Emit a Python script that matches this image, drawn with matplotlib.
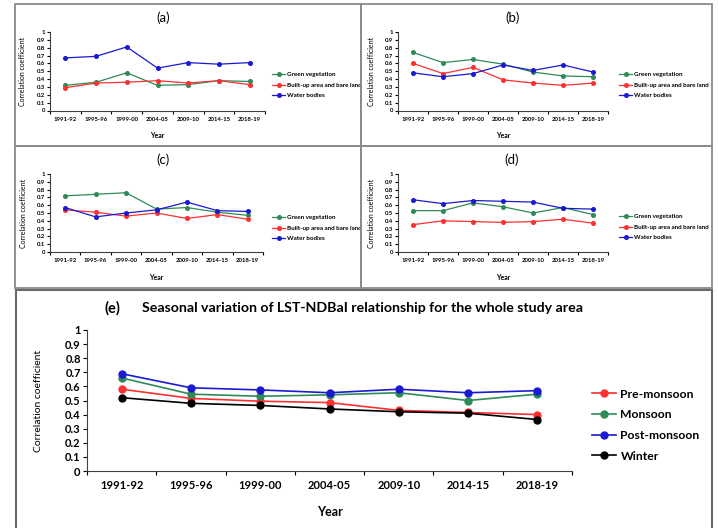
import matplotlib.pyplot as plt
from matplotlib.patches import Rectangle

plt.rcParams['font.family'] = ['Lato', 'DejaVu Sans']

years = ["1991-92", "1995-96", "1999-00", "2004-05", "2009-10", "2014-15", "2018-19"]
yticks = [0, 0.1, 0.2, 0.3, 0.4, 0.5, 0.6, 0.7, 0.8, 0.9, 1]
ytick_labels = ["0", "0.1", "0.2", "0.3", "0.4", "0.5", "0.6", "0.7", "0.8", "0.9", "1"]

land_names = ["Green vegetation", "Built-up area and bare land", "Water bodies"]

green_a = [0.32, 0.36, 0.48, 0.32, 0.33, 0.38, 0.37]
built_a = [0.29, 0.35, 0.36, 0.38, 0.35, 0.38, 0.33]
water_a = [0.67, 0.69, 0.81, 0.54, 0.61, 0.59, 0.61]

green_b = [0.74, 0.61, 0.65, 0.59, 0.49, 0.44, 0.43]
built_b = [0.60, 0.47, 0.55, 0.39, 0.35, 0.32, 0.35]
water_b = [0.48, 0.43, 0.47, 0.58, 0.51, 0.58, 0.49]

green_c = [0.72, 0.74, 0.76, 0.55, 0.57, 0.51, 0.47]
built_c = [0.54, 0.51, 0.46, 0.50, 0.43, 0.48, 0.42]
water_c = [0.57, 0.45, 0.50, 0.54, 0.64, 0.53, 0.52]

green_d = [0.53, 0.53, 0.63, 0.58, 0.50, 0.57, 0.48]
built_d = [0.35, 0.40, 0.39, 0.38, 0.39, 0.42, 0.37]
water_d = [0.67, 0.62, 0.66, 0.65, 0.64, 0.56, 0.55]

season_names = ["Pre-monsoon", "Monsoon", "Post-monsoon", "Winter"]
pre_monsoon = [0.58, 0.515, 0.495, 0.485, 0.43, 0.415, 0.40]
monsoon = [0.66, 0.545, 0.53, 0.54, 0.555, 0.50, 0.545]
post_monsoon = [0.69, 0.59, 0.575, 0.555, 0.58, 0.555, 0.57]
winter = [0.52, 0.48, 0.465, 0.44, 0.42, 0.41, 0.365]

GREEN = "#2e8b57"
RED = "#ff3030"
BLUE = "#1a1ad0"
BLACK = "#000000"

W, H = 718, 528


def fx(px):
    return px / W


def fy(py):
    return 1 - py / H


def setup_axes(ax, tick_fs, ylabel_fs, tick_len):
    x = list(range(len(years)))
    ax.set_xlim(-0.5, len(years) - 0.5)
    ax.set_ylim(0, 1)
    ax.set_yticks(yticks)
    ax.set_yticklabels(ytick_labels, fontsize=tick_fs, fontweight="bold")
    ax.set_xticks([i - 0.5 for i in range(len(years) + 1)])
    ax.set_xticklabels([])
    ax.set_xticks(x, minor=True)
    ax.set_xticklabels(years, minor=True, fontsize=tick_fs, fontweight="bold")
    ax.tick_params(axis="x", which="minor", length=0, pad=tick_len * 2.2)
    ax.tick_params(axis="both", which="major", length=tick_len, width=0.8,
                   direction="out", pad=1.5)
    ax.spines["top"].set_visible(False)
    ax.spines["right"].set_visible(False)
    ax.spines["left"].set_color("#404040")
    ax.spines["bottom"].set_color("#404040")
    ax.set_ylabel("Correlation coefficient", fontsize=ylabel_fs)
    return x


def small_panel(box, axpos, title, green, built, water, title_xy, leg_xy):
    fig.add_artist(Rectangle((fx(box[0]), fy(box[3])), fx(box[2] - box[0]), (box[3] - box[1]) / H,
                             fill=False, edgecolor="#8a8a8a", linewidth=1.3))
    ax = fig.add_axes(axpos)
    x = setup_axes(ax, 4.3, 5, 2)
    ax.plot(x, green, color=GREEN, marker="o", markersize=2.6, linewidth=0.9, label=land_names[0])
    ax.plot(x, built, color=RED, marker="o", markersize=2.6, linewidth=0.9, label=land_names[1])
    ax.plot(x, water, color=BLUE, marker="o", markersize=2.6, linewidth=0.9, label=land_names[2])
    ax.yaxis.set_label_coords(-0.11, 0.5)
    ax.set_xlabel("Year", fontsize=5, fontweight="bold")
    ax.xaxis.set_label_coords(0.5, -0.28)
    fig.text(fx(title_xy[0]), fy(title_xy[1]), title, fontsize=9.5, ha="center", va="center")
    ax.legend(loc="center left", bbox_to_anchor=(fx(leg_xy[0]), fy(leg_xy[1])),
              bbox_transform=fig.transFigure, frameon=False,
              handlelength=2.1, handletextpad=0.3, labelspacing=0.85, borderpad=0,
              borderaxespad=0, prop={"size": 4.5, "weight": "bold"})


fig = plt.figure(figsize=(W / 100, H / 100), dpi=100)

small_panel((15, 4, 361, 146), [fx(50), fy(110.5), fx(215), 78.5 / H], "(a)",
            green_a, built_a, water_a, (163, 18), (272, 85))
small_panel((361, 4, 712, 146), [fx(398), fy(110.5), fx(210), 78.5 / H], "(b)",
            green_b, built_b, water_b, (513, 18), (619, 85))
small_panel((15, 146, 361, 288), [fx(50), fy(252), fx(213), 78 / H], "(c)",
            green_c, built_c, water_c, (163, 160), (272, 228))
small_panel((361, 146, 712, 288), [fx(398), fy(252), fx(210), 78 / H], "(d)",
            green_d, built_d, water_d, (512, 160), (619, 227))

# panel (e)
fig.add_artist(Rectangle((fx(16), fy(540)), fx(712 - 16), 250 / H,
                         fill=False, edgecolor="#6a6a6a", linewidth=1.5, clip_on=False))
ax = fig.add_axes([fx(87), fy(471), fx(485), 141 / H])
x = setup_axes(ax, 8, 7.5, 3)
series = [pre_monsoon, monsoon, post_monsoon, winter]
colors = [RED, GREEN, BLUE, BLACK]
for vals, name, c in zip(series, season_names, colors):
    ax.plot(x, vals, color=c, marker="o", markersize=5, linewidth=1.2, label=name)
ax.yaxis.set_label_coords(-0.09, 0.5)
ax.set_xlabel("Year", fontsize=9, fontweight="bold")
ax.xaxis.set_label_coords(0.5, -0.25)
fig.text(fx(112), fy(308), "(e)", fontsize=10.5, fontweight="bold", ha="center", va="center")
fig.text(fx(142), fy(308), "Seasonal variation of LST-NDBaI relationship for the whole study area",
         fontsize=10.2, fontweight="bold", ha="left", va="center")
ax.legend(loc="center left", bbox_to_anchor=(fx(592), fy(425)),
          bbox_transform=fig.transFigure, frameon=False,
          handlelength=2.0, handletextpad=0.35, labelspacing=0.8, borderpad=0,
          borderaxespad=0, prop={"size": 8.7, "weight": "bold"})

fig.savefig("out.png", dpi=100)
